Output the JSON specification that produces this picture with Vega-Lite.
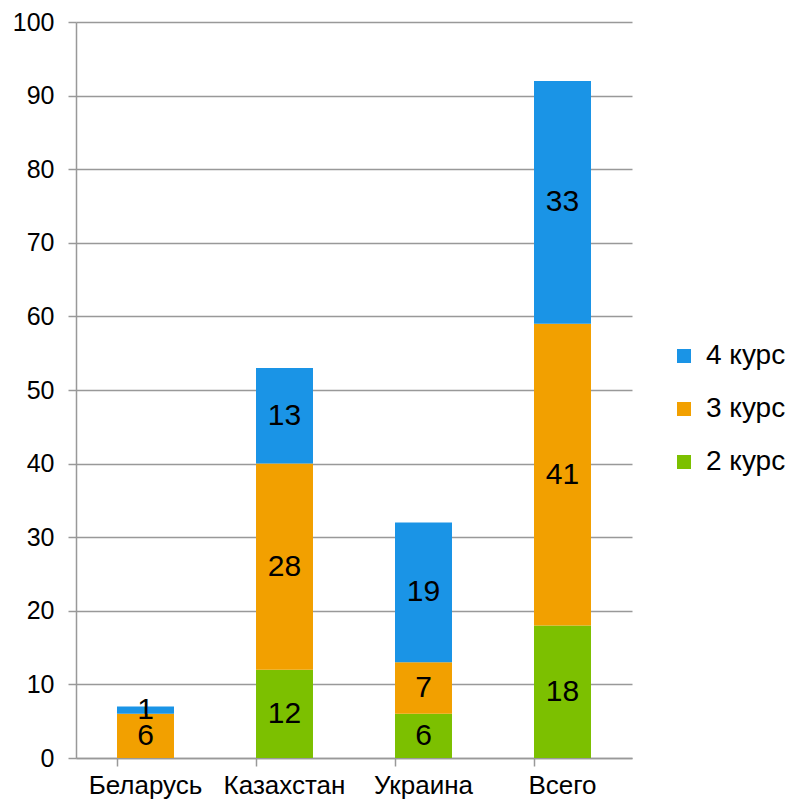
{
  "$schema": "https://vega.github.io/schema/vega-lite/v6.json",
  "width": 556,
  "height": 736,
  "autosize": {"type": "none"},
  "padding": {"left": 76, "top": 22, "right": 162, "bottom": 48},
  "background": "white",
  "config": {"view": {"stroke": null}, "font": "Liberation Sans"},
  "data": {"values": [
    {"country": "Беларусь", "series": "3 курс", "value": 6},
    {"country": "Беларусь", "series": "4 курс", "value": 1},
    {"country": "Казахстан", "series": "2 курс", "value": 12},
    {"country": "Казахстан", "series": "3 курс", "value": 28},
    {"country": "Казахстан", "series": "4 курс", "value": 13},
    {"country": "Украина", "series": "2 курс", "value": 6},
    {"country": "Украина", "series": "3 курс", "value": 7},
    {"country": "Украина", "series": "4 курс", "value": 19},
    {"country": "Всего", "series": "2 курс", "value": 18},
    {"country": "Всего", "series": "3 курс", "value": 41},
    {"country": "Всего", "series": "4 курс", "value": 33}
  ]},
  "transform": [
    {"stack": "value", "groupby": ["country"], "sort": [{"field": "series", "order": "ascending"}], "as": ["v0", "v1"]},
    {"calculate": "(datum.v0 + datum.v1) / 2", "as": "mid"}
  ],
  "encoding": {
    "x": {
      "field": "country", "type": "nominal",
      "sort": ["Беларусь", "Казахстан", "Украина", "Всего"],
      "scale": {"paddingInner": 0.59, "paddingOuter": 0.295},
      "axis": {
        "title": null, "labelAngle": 0, "labelFontSize": 26, "labelColor": "#000",
        "labelPadding": 6, "bandPosition": 0, "tickSize": 8, "tickColor": "#999",
        "domainColor": "#999", "tickWidth": 1.5, "domainWidth": 1.5, "grid": false
      }
    }
  },
  "layer": [
    {
      "mark": {"type": "bar"},
      "encoding": {
        "y": {
          "field": "v0", "type": "quantitative",
          "scale": {"domain": [0, 100]},
          "axis": {
            "title": null, "values": [0,10,20,30,40,50,60,70,80,90,100],
            "labelFontSize": 25, "labelColor": "#000", "labelPadding": 14,
            "tickSize": 8, "tickColor": "#999", "domainColor": "#999",
            "gridColor": "#999", "tickWidth": 1.5, "gridWidth": 1.5, "domainWidth": 1.5
          }
        },
        "y2": {"field": "v1"},
        "color": {
          "field": "series", "type": "nominal",
          "scale": {"domain": ["4 курс", "3 курс", "2 курс"], "range": ["#1a94e6", "#f2a000", "#7cc000"]},
          "legend": {
            "title": null, "orient": "none", "legendX": 594, "legendY": 320,
            "symbolType": "square", "symbolSize": 196, "labelFontSize": 28,
            "labelColor": "#000", "rowPadding": 25, "symbolStrokeWidth": 0, "labelOffset": 8
          }
        }
      }
    },
    {
      "mark": {"type": "text", "fontSize": 30, "color": "#000", "baseline": "middle"},
      "encoding": {
        "y": {"field": "mid", "type": "quantitative"},
        "text": {"field": "value", "type": "quantitative"}
      }
    }
  ]
}
